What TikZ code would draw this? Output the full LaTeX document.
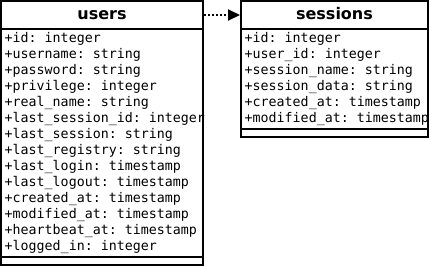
\documentclass[tikz,border=0pt]{standalone}
\usepackage{fontspec}
\newfontfamily\monofont{DejaVu Sans Mono}
\newfontfamily\titlefont{DejaVu Sans}
\usetikzlibrary{arrows.meta}
\frenchspacing
\begin{document}
\begin{tikzpicture}[x=1pt,y=-1pt,
  frame/.style={draw=black, line width=2pt},
  tabletitle/.style={frame, inner sep=0pt, text height=9pt, text depth=0pt,
    font=\titlefont\bfseries\fontsize{16}{16}\selectfont},
  field/.style={anchor=west, inner sep=0pt, text height=10pt, text depth=3pt,
    font=\monofont\fontsize{13.3}{13.3}\selectfont\frenchspacing},
  link/.style={line width=2pt, dash pattern=on 2pt off 2pt,
    -{Triangle[length=12pt,width=11pt]}}]
\useasboundingbox (0,0) rectangle (429,266);

% users table
\node[tabletitle, minimum width=202pt, minimum height=28pt] (users) at (102,15) {users};
\draw[frame] (1,29) rectangle (203,265);
\draw[frame] (1,257) -- (203,257);
\foreach \t [count=\i from 0] in {
  +id: integer,
  +username: string,
  +password: string,
  +privilege: integer,
  +real\_name: string,
  +last\_session\_id: integer,
  +last\_session: string,
  +last\_registry: string,
  +last\_login: timestamp,
  +last\_logout: timestamp,
  +created\_at: timestamp,
  +modified\_at: timestamp,
  +heartbeat\_at: timestamp,
  +logged\_in: integer}
  \node[field] (uf\i) at (4.5,39+16*\i) {\t};

% sessions table
\node[tabletitle, minimum width=187pt, minimum height=28pt] (sessions) at (334.5,15) {sessions};
\draw[frame] (241,29) rectangle (428,137);
\draw[frame] (241,129) -- (428,129);
\foreach \t [count=\i from 0] in {
  +id: integer,
  +user\_id: integer,
  +session\_name: string,
  +session\_data: string,
  +created\_at: timestamp,
  +modified\_at: timestamp}
  \node[field] (sf\i) at (244.5,39+16*\i) {\t};

% relation
\draw[link] (users.east) -- (sessions.west);
\end{tikzpicture}
\end{document}
